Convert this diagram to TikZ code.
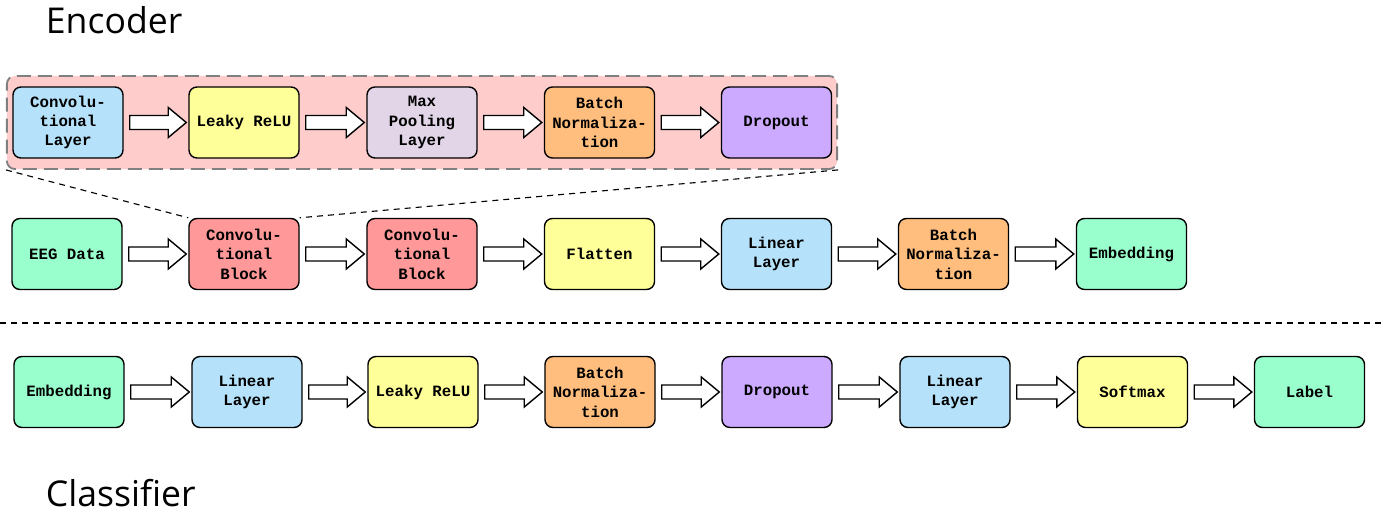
\documentclass[tikz,border=0pt]{standalone}
\usepackage{fontspec}
\newfontfamily\boxfont{Liberation Mono}
\newfontfamily\titlefont{Open Sans}
\usetikzlibrary{calc}

\definecolor{cblue}{RGB}{181,226,250}
\definecolor{cyellow}{RGB}{255,255,153}
\definecolor{clilac}{RGB}{225,213,231}
\definecolor{corange}{RGB}{255,190,125}
\definecolor{cpurple}{RGB}{204,170,255}
\definecolor{cred}{RGB}{255,153,153}
\definecolor{cgreen}{RGB}{153,255,204}
\definecolor{cpink}{RGB}{255,204,204}

\tikzset{
  layer/.style={draw=black, line width=1pt, rounded corners=0.2cm, minimum width=2.75cm,
    minimum height=1.775cm, align=center, inner sep=0pt,
    font=\boxfont\bfseries\fontsize{11.2}{13.8}\selectfont},
  blockbg/.style={draw=black!50, fill=cpink, line width=1.3pt, dash pattern=on 0.35cm off 0.175cm,
    rounded corners=0.2cm, minimum width=20.75cm, minimum height=2.325cm},
  zoomline/.style={line width=0.8pt, dash pattern=on 0.15cm off 0.125cm},
  arrowbox/.style={draw=black, fill=white, line width=1pt},
  title/.style={anchor=west, font=\titlefont\fontsize{25.3}{30}\selectfont}
}
\newcommand{\flow}[2]{\draw[arrowbox] ($(#1.east)+(6,-7)$) -- ($(#2.west)+(-20,-7)$) -- ($(#2.west)+(-20,-15)$) -- ($(#2.west)+(-2,0)$) -- ($(#2.west)+(-20,15)$) -- ($(#2.west)+(-20,7)$) -- ($(#1.east)+(6,7)$) -- cycle;}

\begin{document}
\begin{tikzpicture}[x=0.025cm, y=-0.025cm]
	\useasboundingbox (0,0) rectangle (1386,524);
	
	%%%%% TITLES %%%%%
	\node[title] (enc) at (41,20) {Encoder};
	\node[title] (cls) at (41,493) {Classifier};
	
	%%%%% BLOCK DETAIL %%%%%
	\node[blockbg] (detail) at (422,122.5) {};
	\node[layer, fill=cblue] (dconv) at (68,122.5) {Convolu-\\tional\\Layer};
	\node[layer, fill=cyellow] (drelu) at (244,122.5) {Leaky ReLU};
	\node[layer, fill=clilac] (dpool) at (422,122.5) {Max\\Pooling\\Layer};
	\node[layer, fill=corange] (dnorm) at (599.5,122.5) {Batch\\Normaliza-\\tion};
	\node[layer, fill=cpurple] (ddrop) at (776.5,122.5) {Dropout};
	\flow{dconv}{drelu}
	\flow{drelu}{dpool}
	\flow{dpool}{dnorm}
	\flow{dnorm}{ddrop}
	
	%%%%% ENCODER %%%%%
	\node[layer, fill=cgreen] (eeg) at (67,254) {EEG Data};
	\node[layer, fill=cred] (cb1) at (244,254) {Convolu-\\tional\\Block};
	\node[layer, fill=cred] (cb2) at (422,254) {Convolu-\\tional\\Block};
	\node[layer, fill=cyellow] (flat) at (599.5,254) {Flatten};
	\node[layer, fill=cblue] (elin) at (776.5,254) {Linear\\Layer};
	\node[layer, fill=corange] (enorm) at (953.5,254) {Batch\\Normaliza-\\tion};
	\node[layer, fill=cgreen] (eemb) at (1131.5,254) {Embedding};
	\flow{eeg}{cb1}
	\flow{cb1}{cb2}
	\flow{cb2}{flat}
	\flow{flat}{elin}
	\flow{elin}{enorm}
	\flow{enorm}{eemb}
	
	\draw[zoomline] (detail.south west) -- (cb1.north west);
	\draw[zoomline] (detail.south east) -- (cb1.north east);
	
	%%%%% SEPARATOR %%%%%
	\coordinate (sepl) at (0,323);
	\coordinate (sepr) at (1386,323);
	\draw[zoomline] (sepl) -- (sepr);
	
	%%%%% CLASSIFIER %%%%%
	\node[layer, fill=cgreen] (cemb) at (69,392) {Embedding};
	\node[layer, fill=cblue] (clin1) at (247,392) {Linear\\Layer};
	\node[layer, fill=cyellow] (crelu) at (423,392) {Leaky ReLU};
	\node[layer, fill=corange] (cnorm) at (600,392) {Batch\\Normaliza-\\tion};
	\node[layer, fill=cpurple] (cdrop) at (777,392) {Dropout};
	\node[layer, fill=cblue] (clin2) at (955,392) {Linear\\Layer};
	\node[layer, fill=cyellow] (csoft) at (1132.5,392) {Softmax};
	\node[layer, fill=cgreen] (clab) at (1309.5,392) {Label};
	\flow{cemb}{clin1}
	\flow{clin1}{crelu}
	\flow{crelu}{cnorm}
	\flow{cnorm}{cdrop}
	\flow{cdrop}{clin2}
	\flow{clin2}{csoft}
	\flow{csoft}{clab}
	
\end{tikzpicture}
\end{document}
